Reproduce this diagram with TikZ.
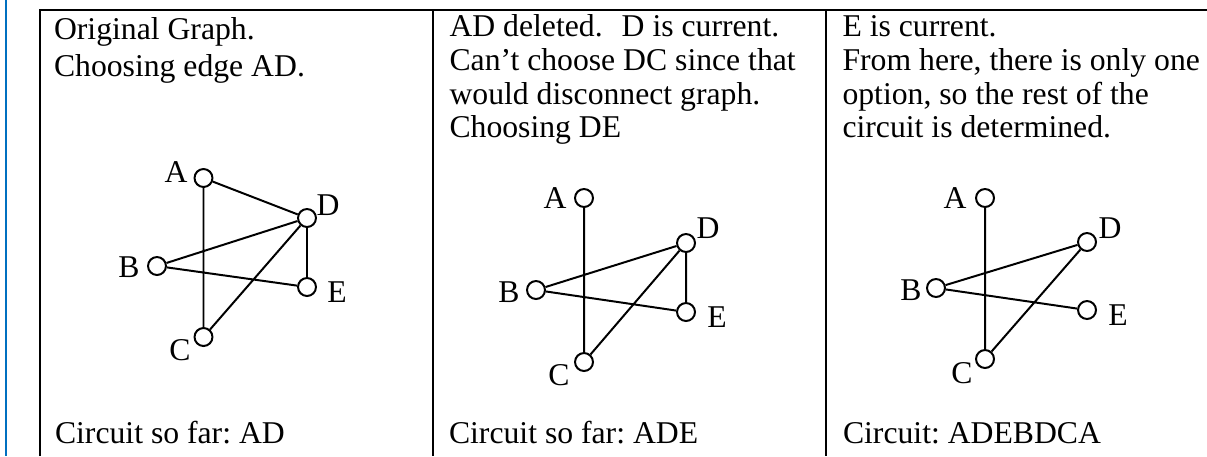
\documentclass[tikz,border=0pt]{standalone}
\usepackage{fontspec}
\setmainfont{Liberation Serif}
\usetikzlibrary{positioning}
\definecolor{wordblue}{RGB}{0,112,192}

\begin{document}
\begin{tikzpicture}[x=0.3786pt, y=-0.3786pt,
    every node/.style={font={\fontsize{12pt}{12.8pt}\selectfont\frenchspacing}, inner sep=0pt},
    vert/.style={draw, circle, minimum size=6.8pt, line width=0.75pt},
    edge/.style={line width=0.75pt},
    cell/.style={anchor=base west, text width=150pt, align=flush left},
    grid/.style={line width=0.75pt}]
  \useasboundingbox (0,0) rectangle (1207,456);
  \draw[wordblue, line width=0.75pt] (6,0) -- (6,456);
  % table frame
  \draw[grid] (40,456) -- (40,10) -- (1207,10);
  \draw[grid] (433,10) -- (433,456);
  \draw[grid] (826,10) -- (826,456);

  % first column
  \node[cell, font={\fontsize{12pt}{14pt}\selectfont\frenchspacing}] (txt1) at (53.5,39.5) {Original Graph.\\Choosing edge AD.};
  \node[vert] (a1) at (203.5,178) {};
  \node[vert] (b1) at (157,266) {};
  \node[vert] (c1) at (203.5,337) {};
  \node[vert] (d1) at (307,218) {};
  \node[vert] (e1) at (307,287) {};
  \node (la1) at (176,172) {A};
  \node (lb1) at (129,267) {B};
  \node (lc1) at (180,350) {C};
  \node (ld1) at (328,205) {D};
  \node (le1) at (337,292) {E};
  \draw[edge] (a1) -- (d1) (a1) -- (c1) (b1) -- (d1) (b1) -- (e1) (c1) -- (d1) (d1) -- (e1);
  \node[cell] (foot1) at (54.5,443) {Circuit so far: AD};

  % second column
  \node[cell] (txt2) at (449,36.5) {AD deleted.\hspace{0.6em}D is current.\\Can’t choose DC since that\\would disconnect graph.\\Choosing DE};
  \node[vert] (a2) at (584,198) {};
  \node[vert] (b2) at (536,290) {};
  \node[vert] (c2) at (584,362) {};
  \node[vert] (d2) at (686,243) {};
  \node[vert] (e2) at (686,312) {};
  \node (la2) at (555,198) {A};
  \node (lb2) at (509,292) {B};
  \node (lc2) at (559,375) {C};
  \node (ld2) at (708,228) {D};
  \node (le2) at (717,317) {E};
  \draw[edge] (a2) -- (c2) (b2) -- (d2) (b2) -- (e2) (c2) -- (d2) (d2) -- (e2);
  \node[cell] (foot2) at (448.5,443) {Circuit so far: ADE};

  % third column
  \node[cell] (txt3) at (842,36.5) {E is current.\\From here, there is only one\\option, so the rest of the\\circuit is determined.};
  \node[vert] (a3) at (985,198) {};
  \node[vert] (b3) at (936,288) {};
  \node[vert] (c3) at (985,359) {};
  \node[vert] (d3) at (1087,242) {};
  \node[vert] (e3) at (1087,310) {};
  \node (la3) at (955,198) {A};
  \node (lb3) at (911,290) {B};
  \node (lc3) at (962,373) {C};
  \node (ld3) at (1110,228) {D};
  \node (le3) at (1118,315) {E};
  \draw[edge] (a3) -- (c3) (b3) -- (d3) (b3) -- (e3) (c3) -- (d3);
  \node[cell] (foot3) at (842.5,443) {Circuit: ADEBDCA};
\end{tikzpicture}
\end{document}
